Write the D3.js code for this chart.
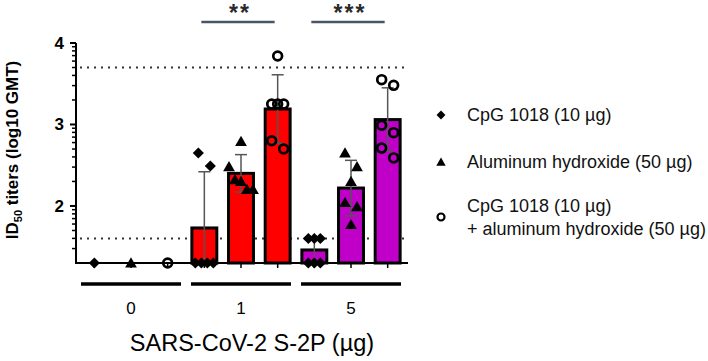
<!DOCTYPE html>
<html>
<head>
<meta charset="utf-8">
<script src="https://cdn.jsdelivr.net/npm/d3@7"></script>
<style>
  body { margin: 0; background: #fff; }
  svg { display: block; font-family: "Liberation Sans", Arial, sans-serif; }
</style>
</head>
<body>
<svg width="708" height="361"></svg>
<script>
// data (log10 GMT)
const doses = ["0", "1", "5"];
const adjuvants = ["CpG 1018 (10 µg)", "Aluminum hydroxide (50 µg)", "CpG 1018 (10 µg)|+ aluminum hydroxide (50 µg)"];
const cpgMean = [1.3, 1.73, 1.46];
const cpgSD = [0, 0.69, 0.15];
const alumMean = [1.3, 2.40, 2.22];
const alumSD = [0, 0.23, 0.34];
const comboMean = [1.3, 3.19, 3.06];
const comboSD = [0, 0.42, 0.39];
const cpgPoints = [[1.3], [2.65, 2.49, 1.3, 1.3, 1.3, 1.3], [1.6, 1.6, 1.6, 1.3, 1.3, 1.3]];
const alumPoints = [[1.3], [2.79, 2.48, 2.32, 2.30, 2.20, 2.20], [2.65, 2.48, 2.30, 2.04, 1.99, 1.77]];
const comboPoints = [[1.3], [3.84, 3.25, 3.25, 3.25, 2.80, 2.70], [3.55, 3.48, 2.99, 2.90, 2.71, 2.59]];
const limits = [3.7, 1.6];
const sigDoses = ["1", "5"];
const sigLabels = ["**", "***"];
const yTicks = [2, 3, 4];

const means = [cpgMean, alumMean, comboMean];
const sds = [cpgSD, alumSD, comboSD];
const points = [cpgPoints, alumPoints, comboPoints];
const doseColor = {"0": "#ff0000", "1": "#ff0000", "5": "#c000c8"};

const svg = d3.select("svg");

const y = d3.scaleLinear().domain([1.3, 4]).range([263, 43]);
const x0 = d3.scaleBand().domain(doses).range([76, 406]);
const x1 = d3.scaleBand().domain([0, 1, 2]).range([0, x0.bandwidth()])
  .paddingInner(0.32).paddingOuter(0.16);
const cx = (d, a) => x0(d) + x1(a) + x1.bandwidth() / 2;

// symbols
const diamond = d3.symbol().type(d3.symbolSquare).size(62)();
const triangle = d3.symbol().type(d3.symbolTriangle).size(60)();
function drawMarker(sel, a, x, yy, scale) {
  scale = scale || 1;
  if (a === 0) {
    sel.append("path").attr("d", diamond)
      .attr("transform", `translate(${x},${yy}) rotate(45) scale(${scale})`).attr("fill", "#000");
  } else if (a === 1) {
    sel.append("path").attr("d", triangle)
      .attr("transform", `translate(${x},${yy + 1}) scale(${scale})`).attr("fill", "#000");
  } else {
    sel.append("circle").attr("cx", x).attr("cy", yy).attr("r", 4.4 * scale)
      .attr("fill", "none").attr("stroke", "#000").attr("stroke-width", 2.7 * scale);
  }
}

// dotted limit lines
svg.selectAll(".limit").data(limits).enter().append("line")
  .attr("x1", 80).attr("x2", 408)
  .attr("y1", d => y(d)).attr("y2", d => y(d))
  .attr("stroke", "#333").attr("stroke-width", 2).attr("stroke-dasharray", "2,5");

// bars + error bars
const barData = [];
doses.forEach((d, i) => {
  [0, 1, 2].forEach(a => barData.push({dose: d, a, mean: means[a][i], sd: sds[a][i], pts: points[a][i]}));
});

const bars = barData.filter(b => b.mean > 1.3);
svg.selectAll(".bar").data(bars).enter().append("rect")
  .attr("x", b => x0(b.dose) + x1(b.a))
  .attr("width", x1.bandwidth())
  .attr("y", b => y(b.mean))
  .attr("height", b => y(1.3) - y(b.mean))
  .attr("fill", b => doseColor[b.dose])
  .attr("stroke", "#000").attr("stroke-width", 3);

bars.forEach(b => {
  const c = cx(b.dose, b.a);
  const hi = b.mean + b.sd, lo = Math.max(1.3, b.mean - b.sd);
  const g = svg.append("g").attr("stroke", "#555").attr("stroke-width", 1.5);
  g.append("line").attr("x1", c).attr("x2", c).attr("y1", y(hi)).attr("y2", y(lo));
  g.append("line").attr("x1", c - 6).attr("x2", c + 6).attr("y1", y(hi)).attr("y2", y(hi));
  if (lo > 1.3) g.append("line").attr("x1", c - 6).attr("x2", c + 6).attr("y1", y(lo)).attr("y2", y(lo));
});

// axes
svg.append("line").attr("x1", 76).attr("x2", 76).attr("y1", y(4)).attr("y2", y(1.3))
  .attr("stroke", "#000").attr("stroke-width", 2);
svg.append("line").attr("x1", 75).attr("x2", 408).attr("y1", y(1.3)).attr("y2", y(1.3))
  .attr("stroke", "#000").attr("stroke-width", 2);

// y ticks: majors + log minors
const minors = [];
[1, 2, 3].forEach(e => d3.range(2, 10).forEach(k => {
  const v = e + Math.log10(k);
  if (v > 1.31 && v < 4) minors.push(v);
}));
svg.selectAll(".ymin").data(minors).enter().append("line")
  .attr("x1", 72).attr("x2", 76).attr("y1", d => y(d)).attr("y2", d => y(d))
  .attr("stroke", "#000").attr("stroke-width", 1.5);
svg.selectAll(".ymaj").data(yTicks).enter().append("line")
  .attr("x1", 70).attr("x2", 76).attr("y1", d => y(d)).attr("y2", d => y(d))
  .attr("stroke", "#000").attr("stroke-width", 2);
svg.selectAll(".ylab").data(yTicks).enter().append("text")
  .attr("x", 64).attr("y", d => y(d) + 6)
  .attr("text-anchor", "end").attr("font-size", 17).attr("font-weight", "bold")
  .text(d => d);

// x ticks at each bar
svg.selectAll(".xt").data(barData).enter().append("line")
  .attr("x1", b => cx(b.dose, b.a)).attr("x2", b => cx(b.dose, b.a))
  .attr("y1", y(1.3)).attr("y2", y(1.3) + 5)
  .attr("stroke", "#000").attr("stroke-width", 1.5);

// points (cluster spread)
barData.forEach(b => {
  const c = cx(b.dose, b.a);
  const vals = b.pts.slice().sort((p, q) => q - p);
  const clusters = [];
  vals.forEach(v => {
    const last = clusters[clusters.length - 1];
    if (last && y(v) - y(last[last.length - 1]) < 14) last.push(v);
    else clusters.push([v]);
  });
  clusters.forEach(cl => {
    const n = cl.length, sp = n === 2 ? 12 : 6;
    cl.forEach((v, i) => drawMarker(svg, b.a, c + (i - (n - 1) / 2) * sp, y(v)));
  });
});

// group underlines and labels
svg.selectAll(".gl").data(doses).enter().append("line")
  .attr("x1", d => x0(d) + 5).attr("x2", d => x0(d) + x0.bandwidth() - 5)
  .attr("y1", 284).attr("y2", 284)
  .attr("stroke", "#000").attr("stroke-width", 3.5);
svg.selectAll(".gt").data(doses).enter().append("text")
  .attr("x", d => x0(d) + x0.bandwidth() / 2).attr("y", 314)
  .attr("text-anchor", "middle").attr("font-size", 17)
  .text(d => d);
svg.append("text").attr("x", 252).attr("y", 351)
  .attr("text-anchor", "middle").attr("font-size", 23.5)
  .text("SARS-CoV-2 S-2P (µg)");

// y title
const yt = svg.append("text")
  .attr("transform", "translate(18,150) rotate(-90)")
  .attr("text-anchor", "middle").attr("font-size", 17).attr("font-weight", "bold");
yt.append("tspan").text("ID");
yt.append("tspan").attr("font-size", 11).attr("dy", 4).text("50");
yt.append("tspan").attr("dy", -4).text(" titers (log10 GMT)");

// significance
sigDoses.forEach((d, i) => {
  const xa = cx(d, 0) - 3, xb = cx(d, 2) - 3;
  svg.append("line").attr("x1", xa).attr("x2", xb).attr("y1", 22).attr("y2", 22)
    .attr("stroke", "#4a5568").attr("stroke-width", 2.5);
  svg.append("text").attr("x", (xa + xb) / 2 + 2).attr("y", 21)
    .attr("text-anchor", "middle").attr("font-size", 23).attr("font-weight", "bold")
    .attr("letter-spacing", 2).attr("fill", "#2a2a2a").text(sigLabels[i]);
});

// legend
const legY = [115, 162, 217];
adjuvants.forEach((lab, a) => {
  drawMarker(svg, a, 441, legY[a], 0.8);
  const lines = lab.split("|");
  const t = svg.append("text").attr("x", 467).attr("font-size", 18).attr("fill", "#111");
  lines.forEach((ln, j) => {
    t.append("tspan").attr("x", 467)
      .attr("y", legY[a] + 6 + (j - (lines.length - 1) / 2) * 23).text(ln);
  });
});
</script>
</body>
</html>
